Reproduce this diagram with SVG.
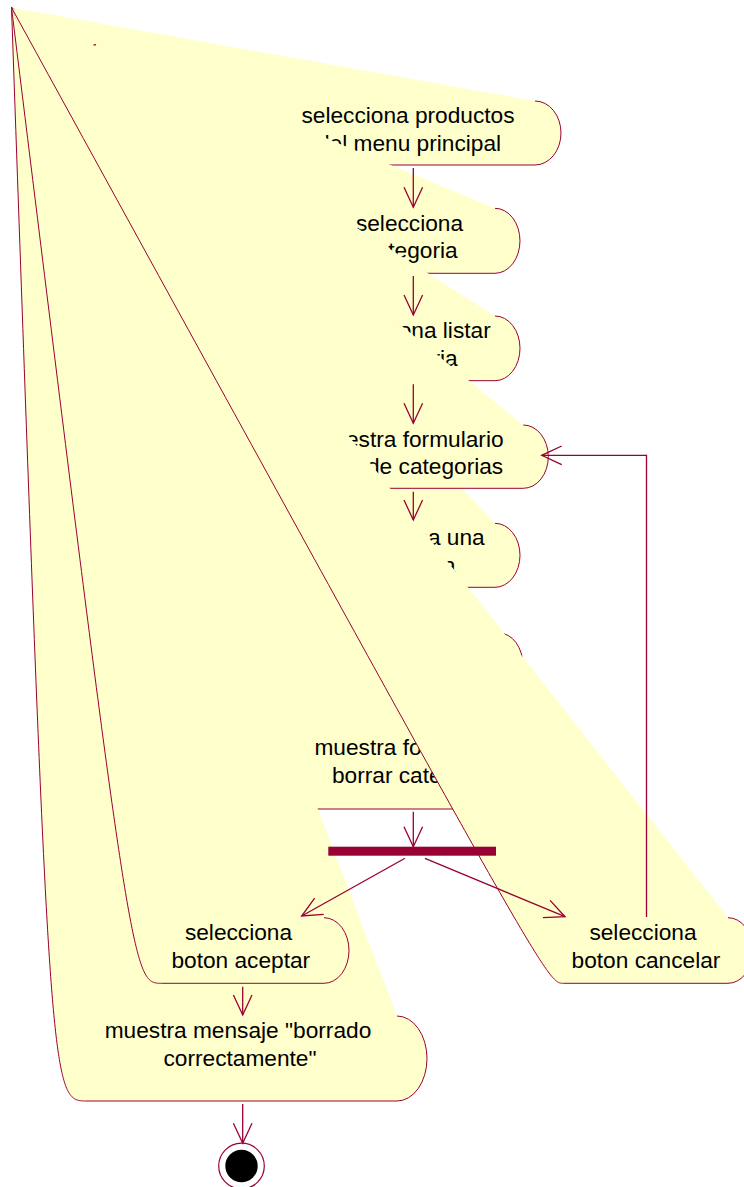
<svg xmlns="http://www.w3.org/2000/svg" width="744" height="1187" viewBox="0 0 744 1187">
<style>
.shape{fill:#FFFFCC;stroke:#990033;stroke-width:1}
.lbl{font-family:"Liberation Sans",Arial,sans-serif;font-size:22.7px;fill:#000;text-anchor:middle}
.conn{fill:none;stroke:#990033;stroke-width:1.3;marker-end:url(#ah)}
</style>
<defs>
<marker id="ah" markerUnits="userSpaceOnUse" markerWidth="26" markerHeight="26" viewBox="-23 -13 26 26" refX="0" refY="0" orient="auto">
<path d="M-20,-9.3 L0,0 L-20,9.3" fill="none" stroke="#990033" stroke-width="1.3"/>
</marker>
</defs>
<rect width="744" height="1187" fill="#fff"/>
<g id="n1">
<path class="shape" d="M535,101 A26,32 0 0 1 535,165 L283,165 C266,165 266,165 11.5,7.5"/>
<text class="lbl" x="408" y="123">selecciona productos</text>
<text class="lbl" x="409" y="151">del menu principal</text>
</g>
<g id="n2">
<path class="shape" d="M495,208.3 A25,32.5 0 0 1 495,273.3 L323,273.3 C307,273.3 307,273.3 11.5,7.5"/>
<text class="lbl" x="409.5" y="231">selecciona</text>
<text class="lbl" x="411" y="258">categoria</text>
</g>
<g id="n3">
<path class="shape" d="M495,316 A25,32.35 0 0 1 495,380.7 L323,380.7 C307,380.7 307,380.7 11.5,7.5"/>
<text class="lbl" x="410" y="338.3">selecciona listar</text>
<text class="lbl" x="411" y="366">categoria</text>
</g>
<g id="n5">
<path class="shape" d="M495,523.3 A25,32 0 0 1 495,587.3 L323,587.3 C307,587.3 307,587.3 11.5,7.5"/>
<text class="lbl" x="409" y="545">selecciona una</text>
<text class="lbl" x="409" y="573">categoria</text>
</g>
<g id="n4">
<path class="shape" d="M523.3,425 A25,31.65 0 0 1 523.3,488.3 L295,488.3 C279,488.3 279,488.3 11.5,7.5"/>
<text class="lbl" x="409" y="446.7">muestra formulario</text>
<text class="lbl" x="367" y="474.3" style="text-anchor:start">de categorias</text>
</g>
<g id="n6">
<path class="shape" d="M499,633 A24,32.5 0 0 1 499,698 L319,698 C303,698 303,698 11.5,7.5"/>
</g>
<g id="n7">
<path class="shape" d="M523,723 A28,43 0 0 1 523,809 L295,809 C277,809 277,809 11.5,7.5"/>
<text class="lbl" x="409" y="755">muestra formulario</text>
<text class="lbl" x="412" y="782.7">borrar categoria</text>
</g>
<g id="n10">
<path class="shape" d="M397,1016 A30,42.5 0 0 1 397,1101 L87,1101 C50,1101 50,1101 11.5,7.5"/>
<text class="lbl" x="238" y="1038.3">muestra mensaje "borrado</text>
<text class="lbl" x="240" y="1066">correctamente"</text>
</g>
<g id="n8">
<path class="shape" d="M324,917.7 A25,32.8 0 0 1 324,983.3 L161.7,983.3 C131.8,983.3 131.8,983.3 11.5,7.5"/>
<text class="lbl" x="238.5" y="940">selecciona</text>
<text class="lbl" x="240.8" y="968.3">boton aceptar</text>
</g>
<g id="n9">
<path class="shape" d="M728,917.7 A25,32.8 0 0 1 728,983.3 L563.3,983.3 C547,983.3 547,983.3 11.5,7.5"/>
<text class="lbl" x="643" y="940">selecciona</text>
<text class="lbl" x="646" y="968.3">boton cancelar</text>
</g>
<g id="start">
<line x1="93.5" y1="45.2" x2="96" y2="44.6" stroke="#990033" stroke-width="1.2"/>
</g>
<g id="fork">
<rect x="328.3" y="846.7" width="167.7" height="9" fill="#990033"/>
</g>
<g id="end">
<circle cx="241.5" cy="1166" r="22.8" fill="#fff" stroke="#990033" stroke-width="1.2"/>
<circle cx="241.5" cy="1166" r="16.2" fill="#000"/>
</g>
<g id="connectors">
<path class="conn" d="M413.3,168 L413.3,207.3"/>
<path class="conn" d="M413.3,276 L413.3,315"/>
<path class="conn" d="M413.3,384.3 L413.3,423.3"/>
<path class="conn" d="M413.3,491.7 L413.3,520"/>
<path class="conn" d="M413.3,811.7 L413.3,846.7"/>
<path class="conn" d="M405,858.3 L301.7,916"/>
<path class="conn" d="M425,858.3 L565,916.7"/>
<path class="conn" d="M646.5,917 L646.5,455.3 L541.7,455.3"/>
<path class="conn" d="M242.7,986.7 L242.7,1015"/>
<path class="conn" d="M242.7,1104 L242.7,1143.3"/>
</g>
</svg>
